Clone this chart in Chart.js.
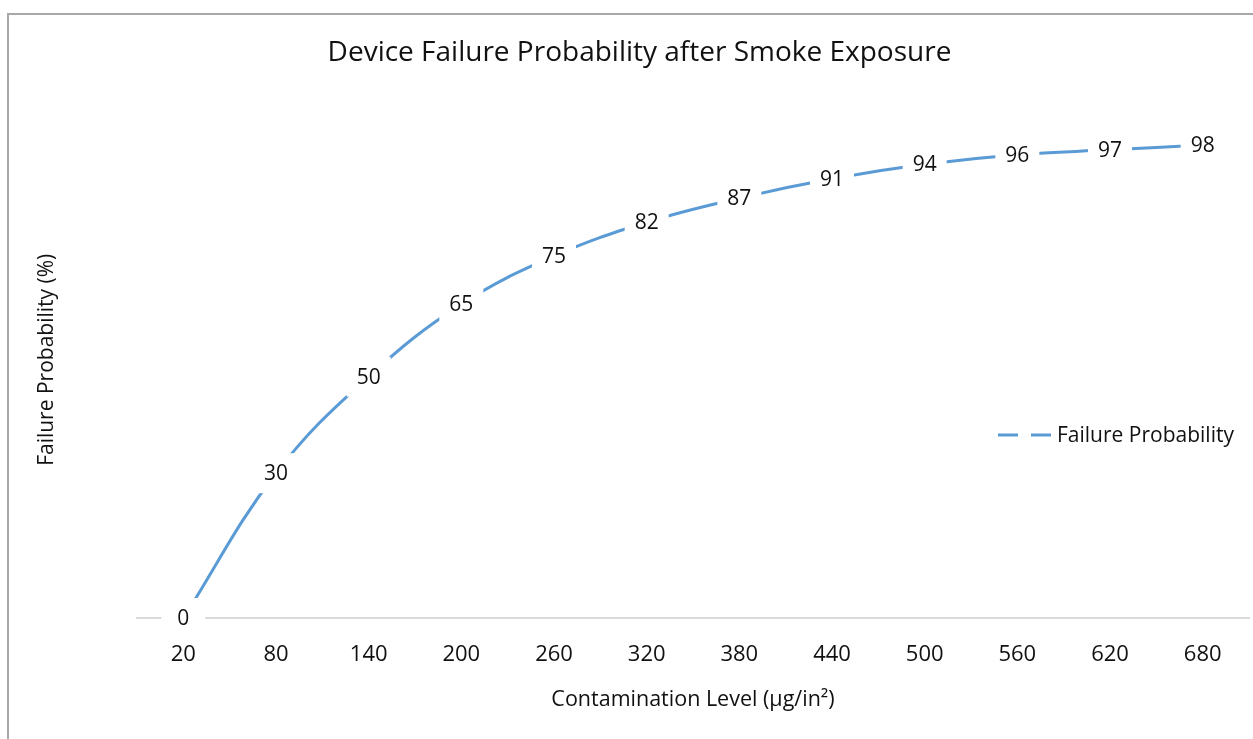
<!DOCTYPE html>
<html>
<head>
<meta charset="utf-8">
<script src="https://cdn.jsdelivr.net/npm/chart.js@4"></script>
<style>
  html, body { margin: 0; padding: 0; background: #fff; }
  #frame {
    position: absolute; left: 7px; top: 13px; width: 1246px; height: 726px;
    border-top: 2px solid #a8a8a8; border-left: 2px solid #a8a8a8;
  }
  #chart { position: absolute; left: 0; top: 0; }
</style>
</head>
<body>
<div id="frame"></div>
<canvas id="chart" width="1253" height="739"></canvas>
<script>
const contamination = ['20', '80', '140', '200', '260', '320', '380', '440', '500', '560', '620', '680'];
const failureProbability = [0, 30, 50, 65, 75, 82, 87, 91, 94, 96, 97, 98];
const seriesName = 'Failure Probability';

const FONT = '"Open Sans", sans-serif';
const LINE_COLOR = '#5b9bd5';

// labels sit on the points with a white box, like Excel's centred data labels
const pointLabels = {
    id: 'pointLabels',
    afterDatasetsDraw(chart) {
        const ctx = chart.ctx;
        const meta = chart.getDatasetMeta(0);
        const values = chart.data.datasets[0].data;
        ctx.save();
        ctx.font = '21px ' + FONT;
        ctx.textAlign = 'center';
        ctx.textBaseline = 'middle';
        meta.data.forEach((pt, i) => {
            ctx.fillStyle = '#fff';
            ctx.fillRect(pt.x - 22, pt.y - 20, 44, 40);
            ctx.fillStyle = '#111';
            ctx.fillText(String(values[i]), pt.x, pt.y + 1);
        });
        ctx.restore();
    }
};

// Excel puts the legend over the plot area on the right
const overlayLegend = {
    id: 'overlayLegend',
    afterDraw(chart) {
        const ctx = chart.ctx;
        const ds = chart.data.datasets[0];
        const y = 435;
        ctx.save();
        ctx.strokeStyle = ds.borderColor;
        ctx.lineWidth = 3;
        ctx.setLineDash([20, 13]);
        ctx.beginPath();
        ctx.moveTo(998, y);
        ctx.lineTo(1053, y);
        ctx.stroke();
        ctx.setLineDash([]);
        ctx.fillStyle = '#111';
        ctx.font = '21px ' + FONT;
        ctx.textAlign = 'left';
        ctx.textBaseline = 'middle';
        ctx.fillText(ds.label, 1057, y + 1);
        ctx.restore();
    }
};

const ctx = document.getElementById('chart').getContext('2d');

new Chart(ctx, {
    type: 'line',
    data: {
        labels: contamination,
        datasets: [{
            label: seriesName,
            data: failureProbability,
            borderColor: LINE_COLOR,
            backgroundColor: LINE_COLOR,
            borderWidth: 3,
            pointRadius: 0,
            tension: 0.4,
            fill: false
        }]
    },
    options: {
        responsive: false,
        animation: false,
        events: [],
        layout: {
            padding: { left: 30, right: 4, top: 0, bottom: 26 }
        },
        plugins: {
            legend: { display: false },
            tooltip: { enabled: false },
            title: {
                display: true,
                text: 'Device Failure Probability after Smoke Exposure',
                color: '#111',
                font: { family: FONT, size: 28, weight: 'normal' },
                padding: { top: 36, bottom: 32 }
            }
        },
        scales: {
            x: {
                offset: true,
                grid: { display: false, drawTicks: false },
                border: { display: true, color: '#d9d9d9', width: 2 },
                ticks: {
                    color: '#111',
                    font: { family: FONT, size: 22 },
                    padding: 24,
                    maxRotation: 0,
                    autoSkip: false
                },
                title: {
                    display: true,
                    text: 'Contamination Level (µg/in²)',
                    color: '#111',
                    font: { family: FONT, size: 21.5 },
                    padding: { top: 4, bottom: 0 }
                },
                afterFit: (scale) => { scale.height = 95; }
            },
            y: {
                min: 0,
                max: 107,
                grid: { display: false, drawTicks: false },
                border: { display: false },
                ticks: { display: false },
                title: {
                    display: true,
                    text: 'Failure Probability (%)',
                    color: '#111',
                    font: { family: FONT, size: 21 },
                    padding: { top: 4, bottom: 4 }
                },
                afterFit: (scale) => { scale.width = 107; }
            }
        }
    },
    plugins: [pointLabels, overlayLegend]
});
</script>
</body>
</html>
